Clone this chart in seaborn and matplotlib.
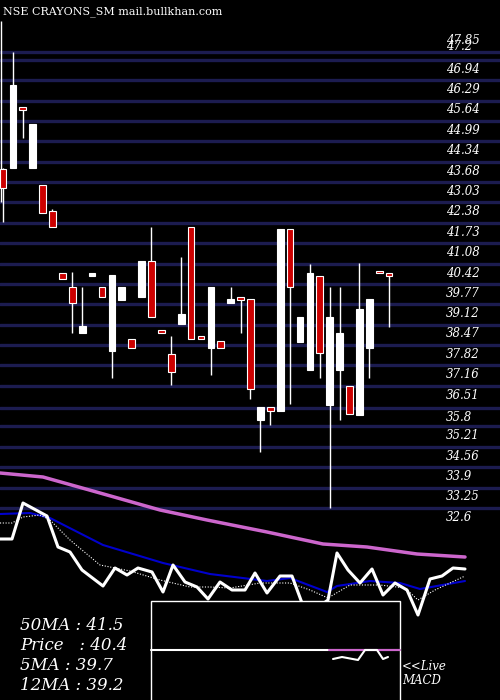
import matplotlib
matplotlib.use("Agg")
import matplotlib.pyplot as plt
import numpy as np
import pandas as pd
import seaborn as sns

# candle data (open, high, low, close)
opens = [43.45, 43.48, 45.44, 43.48, 42.94, 42.11, 40.12, 39.67, 38.20, 40.03,
         39.67, 37.63, 39.26, 38.01, 39.35, 40.51, 38.23, 37.53, 38.49, 41.59,
         38.04, 37.72, 37.94, 39.16, 39.29, 39.29, 35.42, 35.83, 35.70, 41.53,
         37.91, 37.02, 40.03, 35.90, 37.02, 36.50, 35.58, 37.72, 40.15, 40.12]
closes = [42.84, 46.14, 45.34, 44.89, 42.04, 41.59, 39.93, 39.16, 38.42, 40.12,
          39.35, 40.06, 39.67, 37.72, 40.51, 38.71, 38.20, 36.95, 38.81, 38.01,
          38.01, 39.67, 37.72, 39.29, 39.26, 36.41, 35.83, 35.70, 41.53, 39.67,
          38.71, 40.12, 37.56, 38.71, 38.20, 35.61, 38.97, 39.29, 40.12, 40.03]
highs = [43.48, 47.20, 45.44, 44.89, 42.94, 42.17, 40.12, 40.15, 39.67, 40.12,
         39.67, 40.06, 39.67, 38.01, 40.51, 41.59, 38.23, 38.10, 40.63, 41.59,
         38.04, 39.67, 37.94, 39.67, 39.29, 39.29, 35.83, 35.83, 41.53, 41.53,
         38.71, 40.41, 40.03, 39.67, 39.67, 36.50, 40.44, 39.29, 40.15, 40.12]
lows = [41.75, 43.48, 44.44, 43.48, 42.04, 41.59, 39.93, 38.20, 38.20, 40.03,
        39.35, 36.76, 39.26, 37.72, 39.35, 38.71, 38.20, 36.54, 38.49, 38.01,
        38.01, 36.86, 37.72, 39.16, 38.20, 36.09, 34.39, 35.26, 35.70, 35.93,
        37.91, 37.02, 36.76, 32.60, 35.40, 35.61, 35.58, 36.76, 40.12, 38.39]

price_labels = ["47.85", "47.2", "46.94", "46.29", "45.64", "44.99", "44.34", "43.68",
                "43.03", "42.38", "41.73", "41.08", "40.42", "39.77", "39.12", "38.47",
                "37.82", "37.16", "36.51", "35.8", "35.21", "34.56", "33.9", "33.25", "32.6"]

# lower panel lines (screen levels, 0 = top, 700 = bottom)
ma50_x = [0, 43, 100, 160, 207, 267, 323, 367, 417, 465]
ma50_y = [473, 477, 493, 510, 520, 532, 544, 547, 554, 557]
ma12_x = [0, 30, 50, 103, 133, 163, 210, 267, 290, 327, 337, 370, 400, 420, 465]
ma12_y = [514, 513, 518, 545, 554, 563, 574, 581, 578, 592, 586, 581, 583, 589, 581]
px_x = [0, 12, 23, 47, 58, 70, 82, 103, 115, 127, 138, 152, 163, 173, 185, 197, 208,
        220, 232, 245, 255, 267, 280, 292, 302, 317, 328, 337, 348, 360, 372, 383,
        395, 407, 418, 430, 442, 453, 465]
px_y = [539, 539, 503, 516, 547, 552, 570, 586, 568, 575, 568, 572, 592, 565, 582,
        587, 599, 582, 590, 590, 573, 593, 576, 576, 603, 608, 600, 553, 570, 583,
        569, 595, 583, 590, 615, 579, 576, 568, 569]
ma5_x = [0, 12, 23, 40, 50, 70, 100, 130, 160, 190, 210, 230, 260, 290, 310, 328,
         350, 380, 405, 418, 435, 465]
ma5_y = [523, 523, 517, 515, 520, 540, 565, 571, 580, 587, 587, 588, 583, 583, 590,
         598, 585, 585, 588, 600, 590, 576]
macd_x = [333, 342, 358, 365, 377, 383, 388]
macd_y = [659, 657, 660, 650, 650, 659, 657]

sns.set_style("dark")
plt.rcParams["font.family"] = ["DejaVu Serif"]

fig = plt.figure(figsize=(5, 7), dpi=100, facecolor="black")

# price axes: full figure
ax = fig.add_axes([0, 0, 1, 1], facecolor="black")
ax.set_ylim(26.45, 48.86)
ax.set_xlim(-0.30, 50.2)
ax.axis("off")

for lab in price_labels[1:]:
    ax.axhline(float(lab), color="#1c1c50", lw=2.4, zorder=1)
for k, lab in enumerate(price_labels):
    off = 0.16 if k == 1 else -0.3
    ax.text(44.7, float(lab) + off, lab, color="white", fontsize=8.5,
            style="italic", va="center", zorder=5)

df = pd.DataFrame({"o": opens, "c": closes, "h": highs, "l": lows})
for i, r in df.iterrows():
    ax.vlines(i, r.l, r.h, color="white", lw=1, zorder=2)
    lo, hi = min(r.o, r.c), max(r.o, r.c)
    h = max(hi - lo, 0.08)
    col = "white" if r.c >= r.o else "#cc0000"
    ax.bar(i, h, bottom=lo, width=0.68, color=col, edgecolor="white",
           linewidth=0.8, zorder=3)

ax.vlines(-0.2, 42.4, 48.2, color="white", lw=1, zorder=2)

# lower panel overlay
ax2 = fig.add_axes([0, 0, 1, 1], facecolor="none")
ax2.set_xlim(0, 500)
ax2.set_ylim(700, 0)
ax2.axis("off")
sns.lineplot(x=ma50_x, y=ma50_y, ax=ax2, color="#cc66cc", lw=2.5, sort=False)
sns.lineplot(x=ma12_x, y=ma12_y, ax=ax2, color="#0000cc", lw=1.5, sort=False)
sns.lineplot(x=ma5_x, y=ma5_y, ax=ax2, color="white", lw=0.8, ls=(0, (1, 1.5)), sort=False)
sns.lineplot(x=px_x, y=px_y, ax=ax2, color="white", lw=2.2, sort=False)

ax2.add_patch(plt.Rectangle((151, 601), 249, 110, facecolor="black",
                            edgecolor="white", lw=1, zorder=6))
ax2.plot([151, 400], [650, 650], color="white", lw=1.5, zorder=7)
ax2.plot([329, 400], [650, 650], color="#cc66cc", lw=1.5, zorder=8)
ax2.plot(macd_x, macd_y, color="white", lw=1.5, zorder=8)

ax2.text(3, 12, "NSE CRAYONS_SM mail.bullkhan.com", color="white", fontsize=8,
         va="center")
for j, s in enumerate(["50MA : 41.5", "Price   : 40.4", "5MA : 39.7", "12MA : 39.2"]):
    ax2.text(20, 625 + 20 * j, s, color="white", fontsize=12, style="italic",
             va="center")
ax2.text(402, 666, "<<Live", color="white", fontsize=8.5, style="italic", va="center")
ax2.text(402, 681, "MACD", color="white", fontsize=8.5, style="italic", va="center")

fig.savefig("out.png", dpi=100, facecolor="black")
